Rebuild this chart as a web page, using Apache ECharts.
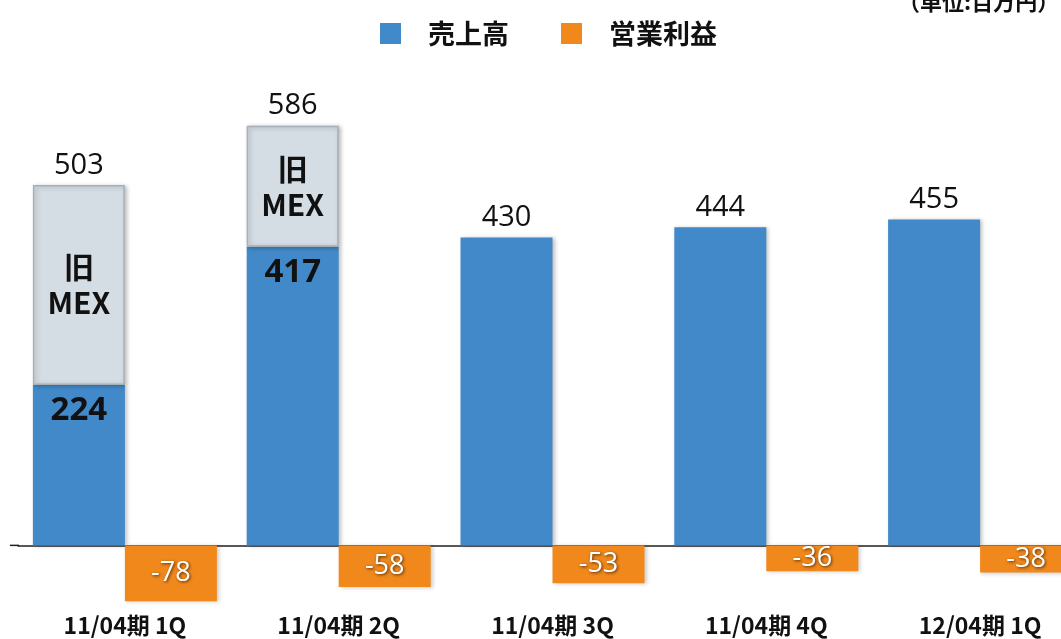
<!DOCTYPE html>
<html>
<head>
<meta charset="utf-8">
<script src="https://cdn.jsdelivr.net/npm/echarts@6/dist/echarts.min.js"></script>
<style>
  html, body { margin: 0; padding: 0; background: #ffffff; }
  #chart { width: 1061px; height: 639px; }
</style>
</head>
<body>
<div id="chart"></div>
<script>
// Quarterly results (unit: million yen)
const categories = ['11/04期 1Q', '11/04期 2Q', '11/04期 3Q', '11/04期 4Q', '12/04期 1Q'];
const salesTotal = [503, 586, 430, 444, 455];          // 売上高 including former MEX
const salesExOldMex = [224, 417, 430, 444, 455];       // 売上高 excluding former MEX
const operatingProfit = [-78, -58, -53, -36, -38];     // 営業利益
const oldMexLabel = '旧\nMEX';

const BLUE = '#4189c8';
const ORANGE = '#f0881c';
const GREY = '#d5dde4';

// Former-MEX share is the part of total sales above the core sales
const oldMexPart = salesTotal.map((t, i) => t - salesExOldMex[i]);
const hasOldMex = oldMexPart.map(v => v > 0);

const jpFont = '"Noto Sans CJK JP", "Open Sans", sans-serif';
const numFont = '"Open Sans", "Noto Sans", sans-serif';

const chart = echarts.init(document.getElementById('chart'), null, { renderer: 'canvas' });

const barShadow = {
  shadowColor: 'rgba(0,0,0,0.25)',
  shadowBlur: 4,
  shadowOffsetX: 2,
  shadowOffsetY: 1
};

const option = {
  backgroundColor: '#ffffff',
  animation: false,
  title: {
    text: '（単位:百万円）',
    left: 893,
    top: -14,
    textStyle: { fontFamily: jpFont, fontWeight: 'bold', fontSize: 22, color: '#111' }
  },
  legend: {
    data: ['売上高', '営業利益'],
    left: 375,
    top: 15,
    icon: 'rect',
    itemWidth: 21,
    itemHeight: 21,
    itemGap: 52,
    textStyle: { fontFamily: jpFont, fontWeight: 'bold', fontSize: 27, color: '#111', padding: [0, 0, 0, 22] }
  },
  grid: { left: 18, width: 1069, top: 44, height: 573, outerBoundsMode: 'none', containLabel: false },
  xAxis: [
    {
      // baseline at zero
      type: 'category',
      data: categories,
      axisLine: { show: true, onZero: true, lineStyle: { color: '#222', width: 1.5 } },
      axisTick: { show: false },
      axisLabel: { show: false }
    },
    {
      // category names along the bottom
      type: 'category',
      data: categories,
      position: 'bottom',
      axisLine: { show: false, onZero: false },
      axisTick: { show: false },
      axisLabel: {
        show: true,
        interval: 0,
        margin: -4,
        lineHeight: 24,
        fontFamily: jpFont,
        fontWeight: 'bold',
        fontSize: 23,
        color: '#111'
      }
    }
  ],
  yAxis: {
    type: 'value',
    min: -100,
    max: 700,
    show: false,
    splitLine: { show: false }
  },
  series: [
    {
      name: '売上高',
      type: 'bar',
      stack: 'sales',
      barWidth: 92,
      barGap: '0%',
      itemStyle: Object.assign({ color: BLUE }, barShadow),
      data: salesExOldMex.map((v, i) => ({
        value: v,
        label: {
          show: hasOldMex[i],
          position: 'insideTop',
          distance: 9,
          formatter: '{c}',
          fontFamily: numFont,
          fontWeight: 'bold',
          fontSize: 33,
          color: '#111'
        }
      })),
      z: 2
    },
    {
      name: '旧MEX',
      type: 'bar',
      stack: 'sales',
      barWidth: 92,
      data: oldMexPart.map((v, i) => ({
        value: v,
        itemStyle: hasOldMex[i]
          ? Object.assign({ color: GREY, borderColor: '#a7b0b8', borderWidth: 1.5 }, barShadow)
          : { color: 'rgba(0,0,0,0)', borderWidth: 0 },
        label: {
          show: hasOldMex[i],
          position: 'inside',
          formatter: oldMexLabel,
          fontFamily: jpFont,
          fontWeight: 'bold',
          fontSize: 30,
          lineHeight: 36,
          color: '#111'
        }
      })),
      z: 2
    },
    {
      // zero-height cap carrying the total sales label
      name: '合計',
      type: 'bar',
      stack: 'sales',
      stackStrategy: 'all',
      barWidth: 92,
      itemStyle: { color: 'rgba(0,0,0,0)' },
      label: {
        show: true,
        position: 'top',
        distance: 5,
        formatter: p => salesTotal[p.dataIndex],
        fontFamily: numFont,
        fontSize: 29,
        color: '#111'
      },
      data: salesTotal.map(() => 0),
      z: 3
    },
    {
      name: '営業利益',
      type: 'bar',
      barWidth: 92,
      itemStyle: Object.assign({ color: ORANGE }, barShadow, { shadowColor: 'rgba(0,0,0,0.2)' }),
      label: {
        show: true,
        position: 'inside',
        fontFamily: numFont,
        fontSize: 27,
        color: '#ffffff',
        textShadowColor: 'rgba(60,30,0,0.85)',
        textShadowBlur: 3,
        textShadowOffsetX: 1,
        textShadowOffsetY: 1
      },
      data: operatingProfit,
      z: 2
    }
  ]
};

chart.setOption(option);

// extend the baseline slightly to the left of the first category
const zeroY = chart.convertToPixel({ yAxisIndex: 0 }, 0);
chart.setOption({
  graphic: [{
    type: 'line',
    shape: { x1: 10, y1: zeroY, x2: 19, y2: zeroY },
    style: { stroke: '#222', lineWidth: 1.5 },
    z: 5
  }]
});
</script>
</body>
</html>
